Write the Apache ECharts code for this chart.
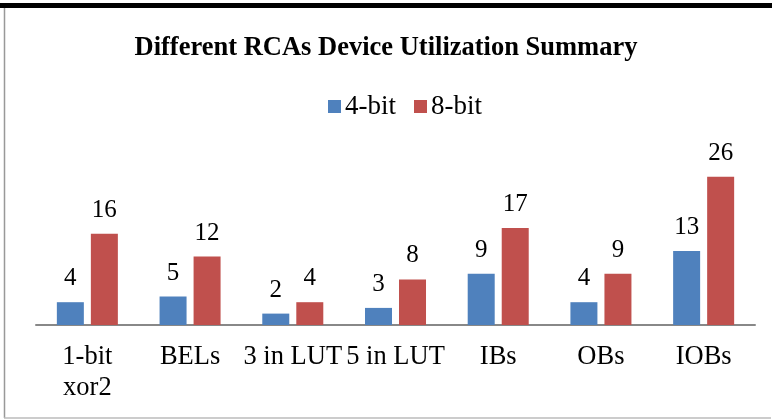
<!DOCTYPE html>
<html>
<head>
<meta charset="utf-8">
<script src="https://cdn.jsdelivr.net/npm/echarts@6/dist/echarts.min.js"></script>
<style>
html,body{margin:0;padding:0;background:#fff;}
#chart{width:772px;height:419px;}
</style>
</head>
<body>
<div id="chart"></div>
<script>
var categories = ['1-bit\nxor2', 'BELs', '3 in LUT', '5 in LUT', 'IBs', 'OBs', 'IOBs'];
var bits4 = [4, 5, 2, 3, 9, 4, 13];
var bits8 = [16, 12, 4, 8, 17, 9, 26];

var font = '"Liberation Serif", "DejaVu Serif", serif';
var chart = echarts.init(document.getElementById('chart'));
var label = {
    show: true,
    position: 'top',
    distance: 11,
    fontFamily: font,
    fontSize: 25,
    color: '#000'
};
chart.setOption({
    animation: false,
    title: {
        text: 'Different RCAs Device Utilization Summary',
        left: 'center',
        top: 30,
        textStyle: {fontFamily: font, fontSize: 26.5, fontWeight: 'bold', color: '#000'}
    },
    legend: {
        data: ['4-bit', '8-bit'],
        top: 88,
        left: 323,
        itemWidth: 13,
        itemHeight: 13,
        itemGap: 18,
        icon: 'rect',
        textStyle: {fontFamily: font, fontSize: 27, color: '#000', padding: [0, 0, 0, -1]}
    },
    grid: {left: 36, right: 17, top: 154, bottom: 94},
    xAxis: {
        type: 'category',
        data: categories,
        axisLine: {lineStyle: {color: '#888', width: 2}},
        axisTick: {show: false},
        axisLabel: {fontFamily: font, fontSize: 26.5, color: '#000', margin: 17, lineHeight: 31, interval: 0}
    },
    yAxis: {
        type: 'value',
        min: 0,
        max: 30,
        show: false,
        splitLine: {show: false}
    },
    series: [
        {name: '4-bit', type: 'bar', data: bits4, barWidth: 27, barGap: '26%',
         itemStyle: {color: '#4F81BD'}, label: label},
        {name: '8-bit', type: 'bar', data: bits8, barWidth: 27,
         itemStyle: {color: '#C0504D'}, label: label}
    ],
    graphic: [
        {type: 'rect', shape: {x: 0, y: 3, width: 772, height: 5}, style: {fill: '#000'}},
        {type: 'line', shape: {x1: 4.5, y1: 8, x2: 4.5, y2: 418}, style: {stroke: '#999', lineWidth: 1.5}},
        {type: 'line', shape: {x1: 4, y1: 418, x2: 771, y2: 418}, style: {stroke: '#bbb', lineWidth: 1.5}}
    ]
});
</script>
</body>
</html>
